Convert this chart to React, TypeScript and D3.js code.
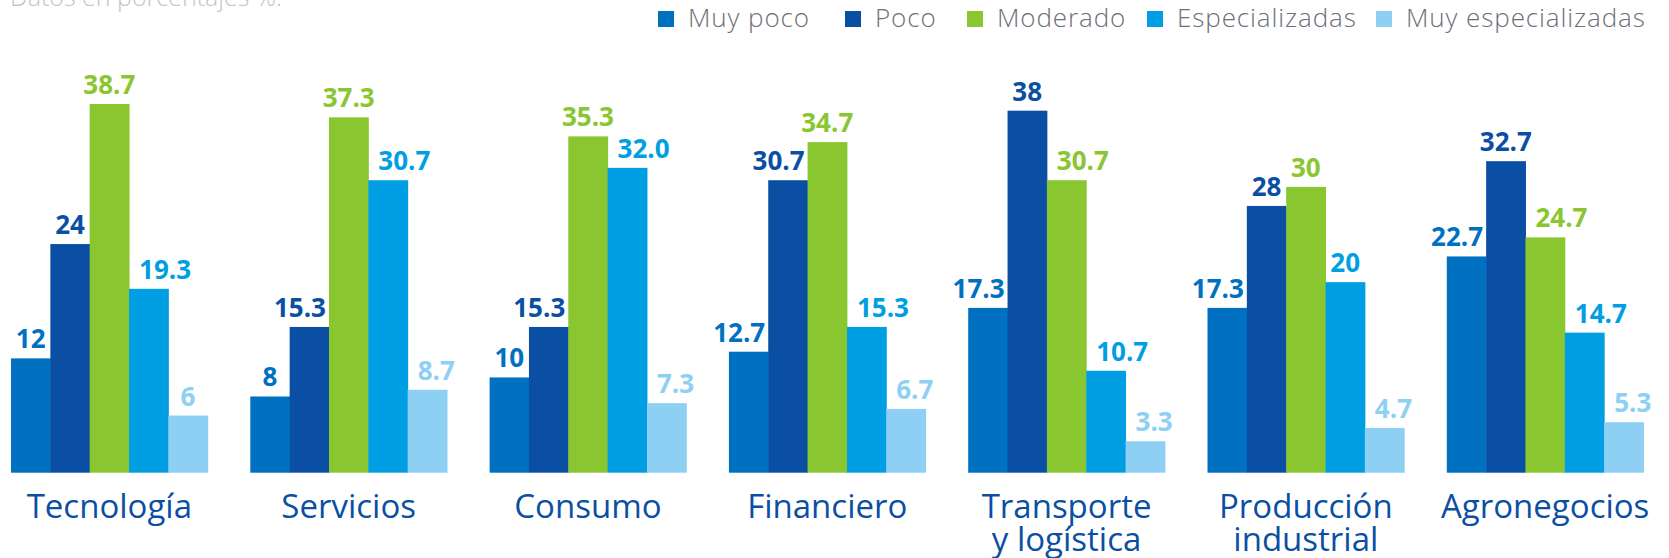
import React from 'react';
import * as d3 from 'd3';

// Sectors (line breaks as in the original labels)
const categories = [
  'Tecnología',
  'Servicios',
  'Consumo',
  'Financiero',
  'Transporte\ny logística',
  'Producción\nindustrial',
  'Agronegocios',
];

const seriesNames = ['Muy poco', 'Poco', 'Moderado', 'Especializadas', 'Muy especializadas'];
const seriesColors = ['#0070c0', '#0a4fa3', '#8ac630', '#009fe3', '#8ed0f3'];

// values as printed on the chart
const muyPoco = ['12', '8', '10', '12.7', '17.3', '17.3', '22.7'];
const poco = ['24', '15.3', '15.3', '30.7', '38', '28', '32.7'];
const moderado = ['38.7', '37.3', '35.3', '34.7', '30.7', '30', '24.7'];
const especializadas = ['19.3', '30.7', '32.0', '15.3', '10.7', '20', '14.7'];
const muyEspecializadas = ['6', '8.7', '7.3', '6.7', '3.3', '4.7', '5.3'];

const series = [muyPoco, poco, moderado, especializadas, muyEspecializadas];

const title = 'Datos en porcentajes %.';

const width = 1669;
const height = 558;
const baseline = 472.7;
const legendX = [658, 845, 967, 1147, 1376];
const font = "'Open Sans', sans-serif";

export default function App() {
  const x0 = d3
    .scaleBand<string>()
    .domain(categories)
    .range([11, 1643.5])
    .paddingInner(0.178)
    .paddingOuter(0);

  const x1 = d3
    .scaleBand<string>()
    .domain(seriesNames)
    .range([0, x0.bandwidth()])
    .padding(0);

  const y = d3.scaleLinear().domain([0, 40]).range([baseline, baseline - 40 * 9.527]);
  const bw = x1.bandwidth();

  // wide labels get pushed away from a taller neighbour bar
  const labelPos = (ci: number, si: number) => {
    const txt = series[si][ci];
    const v = Number(txt);
    const bx = x1(seriesNames[si]) as number;
    const left = si > 0 ? Number(series[si - 1][ci]) : -1;
    const right = si < series.length - 1 ? Number(series[si + 1][ci]) : -1;
    if (txt.length > 2) {
      if (left > v && right <= v) return { x: bx + 10, anchor: 'start' };
      if (right > v && left <= v) return { x: bx + bw - 3, anchor: 'end' };
    }
    return { x: bx + bw / 2, anchor: 'middle' };
  };

  return (
    <svg
      width={width}
      height={height}
      style={{ position: 'absolute', left: 0, top: 0, background: '#fff' }}
    >
      <text x={10} y={6} fontFamily={font} fontWeight={300} fontSize={25} fill="#c4c4c4">
        {title}
      </text>

      {/* legend */}
      <g>
        {seriesNames.map((name, i) => (
          <g key={name} transform={`translate(${legendX[i]},0)`}>
            <rect x={0} y={11} width={16} height={16} fill={seriesColors[i]} />
            <text
              x={30}
              y={27}
              fontFamily={font}
              fontWeight={300}
              fontSize={26}
              letterSpacing={0.9}
              fill="#6b7079"
            >
              {name}
            </text>
          </g>
        ))}
      </g>

      {/* bars */}
      {categories.map((cat, ci) => (
        <g key={cat} transform={`translate(${x0(cat)},0)`}>
          {series.map((vals, si) => {
            const v = Number(vals[ci]);
            const bx = x1(seriesNames[si]) as number;
            const lp = labelPos(ci, si);
            return (
              <g key={si}>
                <rect
                  x={bx}
                  y={y(v)}
                  width={bw + 0.5}
                  height={baseline - y(v)}
                  fill={seriesColors[si]}
                />
                <text
                  x={lp.x}
                  y={y(v) - 10}
                  textAnchor={lp.anchor}
                  fontFamily={font}
                  fontWeight={700}
                  fontSize={26}
                  fill={seriesColors[si]}
                >
                  {vals[ci]}
                </text>
              </g>
            );
          })}
          {cat.split('\n').map((line, li) => (
            <text
              key={li}
              x={x0.bandwidth() / 2}
              y={518 + li * 32.5}
              textAnchor="middle"
              fontFamily={font}
              fontSize={33}
              fill="#0a4fa3"
            >
              {line}
            </text>
          ))}
        </g>
      ))}
    </svg>
  );
}
